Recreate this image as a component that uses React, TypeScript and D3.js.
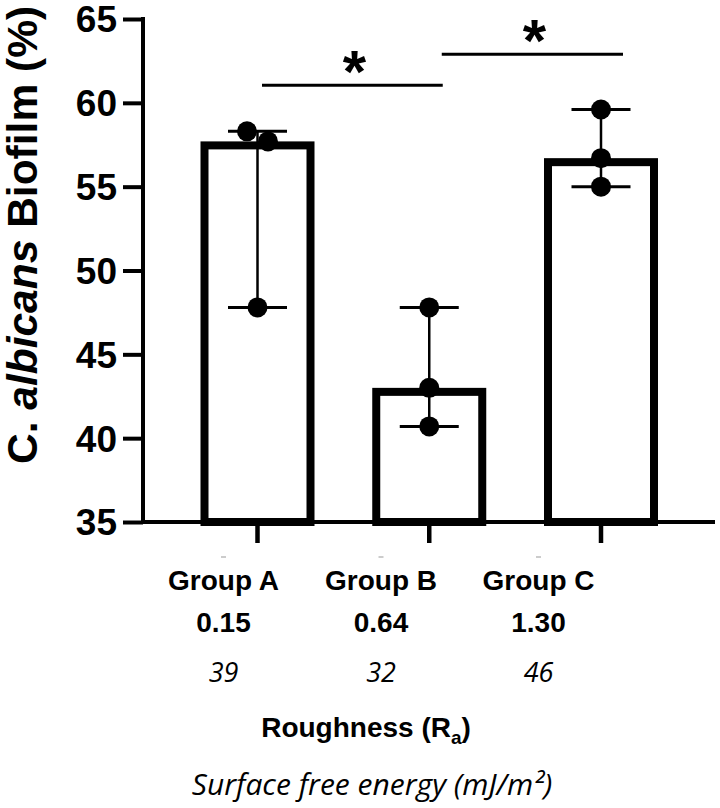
import { useRef, useEffect } from "react";
import * as d3 from "d3";

const GROUPS = ["Group A", "Group B", "Group C"];
const ROUGHNESS = ["0.15", "0.64", "1.30"];
const SURFACE_ENERGY = ["39", "32", "46"];

// replicate measurements per group (% biofilm)
const VALUES_A = [58.3, 57.7, 47.8];
const VALUES_B = [47.8, 43.0, 40.7];
const VALUES_C = [59.6, 56.7, 55.0];
const SERIES = [VALUES_A, VALUES_B, VALUES_C];

const Y_TICKS = [35, 40, 45, 50, 55, 60, 65];

const COMPARISONS = [
  { from: "Group A", to: "Group B", label: "*", level: 61.05 },
  { from: "Group B", to: "Group C", label: "*", level: 62.9 },
];

const BOLD = "'Liberation Sans', Arial, sans-serif";
const ITALIC = "'Open Sans', sans-serif";

export default function App() {
  const svgRef = useRef<SVGSVGElement>(null);

  useEffect(() => {
    if (!svgRef.current) return;
    const svg = d3.select(svgRef.current);
    svg.selectAll("*").remove();

    const width = 720;
    const height = 808;
    svg.attr("width", width).attr("height", height);

    const axisLeftX = 143;
    const axisRightX = 715;
    const y = d3.scaleLinear().domain([35, 65]).range([522, 19]);
    const x = d3.scalePoint<string>().domain(GROUPS).range([257.5, 601]);
    const labelX = d3.scalePoint<string>().domain(GROUPS).range([223.5, 538.5]);

    const barOuter = 114;
    const barStroke = 8;
    const r = 10;
    const capHalf = 29.5;

    const g = svg.append("g");

    // bars (median), stroke drawn inside the bar outline
    GROUPS.forEach((grp, i) => {
      const med = d3.median(SERIES[i]) as number;
      const cx = x(grp) as number;
      g.append("rect")
        .attr("x", cx - barOuter / 2 + barStroke / 2)
        .attr("y", y(med) + barStroke / 2)
        .attr("width", barOuter - barStroke)
        .attr("height", y(35) - y(med) - barStroke / 2)
        .attr("fill", "#fff")
        .attr("stroke", "#000")
        .attr("stroke-width", barStroke);
    });

    // range error bars
    GROUPS.forEach((grp, i) => {
      const [lo, hi] = d3.extent(SERIES[i]) as [number, number];
      const cx = x(grp) as number;
      g.append("line")
        .attr("x1", cx).attr("x2", cx)
        .attr("y1", y(hi)).attr("y2", y(lo))
        .attr("stroke", "#000").attr("stroke-width", 2.5);
      [lo, hi].forEach((v) => {
        g.append("line")
          .attr("x1", cx - capHalf).attr("x2", cx + capHalf)
          .attr("y1", y(v)).attr("y2", y(v))
          .attr("stroke", "#000").attr("stroke-width", 3);
      });
    });

    // points, dodged horizontally when they would overlap
    GROUPS.forEach((grp, i) => {
      const cx = x(grp) as number;
      const sorted = [...SERIES[i]].sort((a, b) => b - a);
      const clusters: number[][] = [];
      sorted.forEach((v) => {
        const last = clusters[clusters.length - 1];
        if (last && Math.abs(y(v) - y(last[last.length - 1])) < 2 * r) last.push(v);
        else clusters.push([v]);
      });
      clusters.forEach((cl) => {
        cl.forEach((v, j) => {
          const off = (j - (cl.length - 1) / 2) * 2.1 * r;
          g.append("circle")
            .attr("cx", cx + off)
            .attr("cy", y(v))
            .attr("r", r)
            .attr("fill", "#000");
        });
      });
    });

    // y axis
    g.append("line")
      .attr("x1", axisLeftX).attr("x2", axisLeftX)
      .attr("y1", y(65) - 2).attr("y2", y(35) + 2)
      .attr("stroke", "#000").attr("stroke-width", 4);
    const yAxis = g.append("g")
      .attr("transform", `translate(${axisLeftX},0)`)
      .call(d3.axisLeft(y).tickValues(Y_TICKS).tickSize(20).tickPadding(6).tickSizeOuter(0));
    yAxis.select(".domain").remove();
    yAxis.selectAll(".tick line").attr("stroke", "#000").attr("stroke-width", 4);
    yAxis.selectAll(".tick text")
      .attr("font-family", BOLD)
      .attr("font-weight", "bold")
      .attr("font-size", "37px")
      .attr("dy", "0.35em")
      .attr("fill", "#000");

    // x axis
    g.append("line")
      .attr("x1", axisLeftX - 2).attr("x2", axisRightX)
      .attr("y1", y(35)).attr("y2", y(35))
      .attr("stroke", "#000").attr("stroke-width", 4);
    GROUPS.forEach((grp) => {
      const cx = x(grp) as number;
      g.append("line")
        .attr("x1", cx).attr("x2", cx)
        .attr("y1", y(35)).attr("y2", y(35) + 21)
        .attr("stroke", "#000").attr("stroke-width", 4.5);
    });

    // significance brackets
    const bracketOffsets = [
      [4.5, 13.5],
      [12.5, 22],
    ];
    COMPARISONS.forEach((c, i) => {
      const x1 = (x(c.from) as number) + bracketOffsets[i][0];
      const x2 = (x(c.to) as number) + bracketOffsets[i][1];
      const ly = y(c.level);
      g.append("line")
        .attr("x1", x1).attr("x2", x2)
        .attr("y1", ly).attr("y2", ly)
        .attr("stroke", "#000").attr("stroke-width", 3);
      g.append("text")
        .attr("x", (x1 + x2) / 2 + 2)
        .attr("y", ly + 7)
        .attr("text-anchor", "middle")
        .attr("font-family", BOLD)
        .attr("font-weight", "bold")
        .attr("font-size", "60px")
        .attr("fill", "#000")
        .text(c.label);
    });

    // category labels
    GROUPS.forEach((grp, i) => {
      const lx = labelX(grp) as number;
      g.append("line")
        .attr("x1", lx - 2.5).attr("x2", lx + 2.5)
        .attr("y1", 557).attr("y2", 557)
        .attr("stroke", "#bbb").attr("stroke-width", 1.5);
      g.append("text")
        .attr("x", lx).attr("y", 590)
        .attr("text-anchor", "middle")
        .attr("font-family", BOLD).attr("font-weight", "bold")
        .attr("font-size", "28px")
        .text(grp);
      g.append("text")
        .attr("x", lx).attr("y", 632)
        .attr("text-anchor", "middle")
        .attr("font-family", BOLD).attr("font-weight", "bold")
        .attr("font-size", "28px")
        .text(ROUGHNESS[i]);
      g.append("text")
        .attr("x", lx).attr("y", 682)
        .attr("text-anchor", "middle")
        .attr("font-family", ITALIC).attr("font-style", "italic")
        .attr("font-size", "27px")
        .text(SURFACE_ENERGY[i]);
    });

    // axis titles
    const rough = g.append("text")
      .attr("x", 366).attr("y", 737)
      .attr("text-anchor", "middle")
      .attr("font-family", BOLD).attr("font-weight", "bold")
      .attr("font-size", "28px");
    rough.append("tspan").text("Roughness (R");
    rough.append("tspan").attr("font-size", "19px").attr("dy", 7).text("a");
    rough.append("tspan").attr("dy", -7).text(")");

    g.append("text")
      .attr("x", 372).attr("y", 795)
      .attr("text-anchor", "middle")
      .attr("font-family", ITALIC).attr("font-style", "italic")
      .attr("font-size", "30px")
      .text("Surface free energy (mJ/m²)");

    const yl = g.append("text")
      .attr("transform", "translate(37,235) rotate(-90)")
      .attr("text-anchor", "middle")
      .attr("font-family", BOLD).attr("font-weight", "bold")
      .attr("font-size", "42.5px");
    yl.append("tspan").text("C. ");
    yl.append("tspan").attr("font-style", "italic").text("albicans");
    yl.append("tspan").text(" Biofilm (%)");
  }, []);

  return (
    <svg
      ref={svgRef}
      style={{ position: "absolute", left: 0, top: 0, background: "#fff" }}
    />
  );
}
